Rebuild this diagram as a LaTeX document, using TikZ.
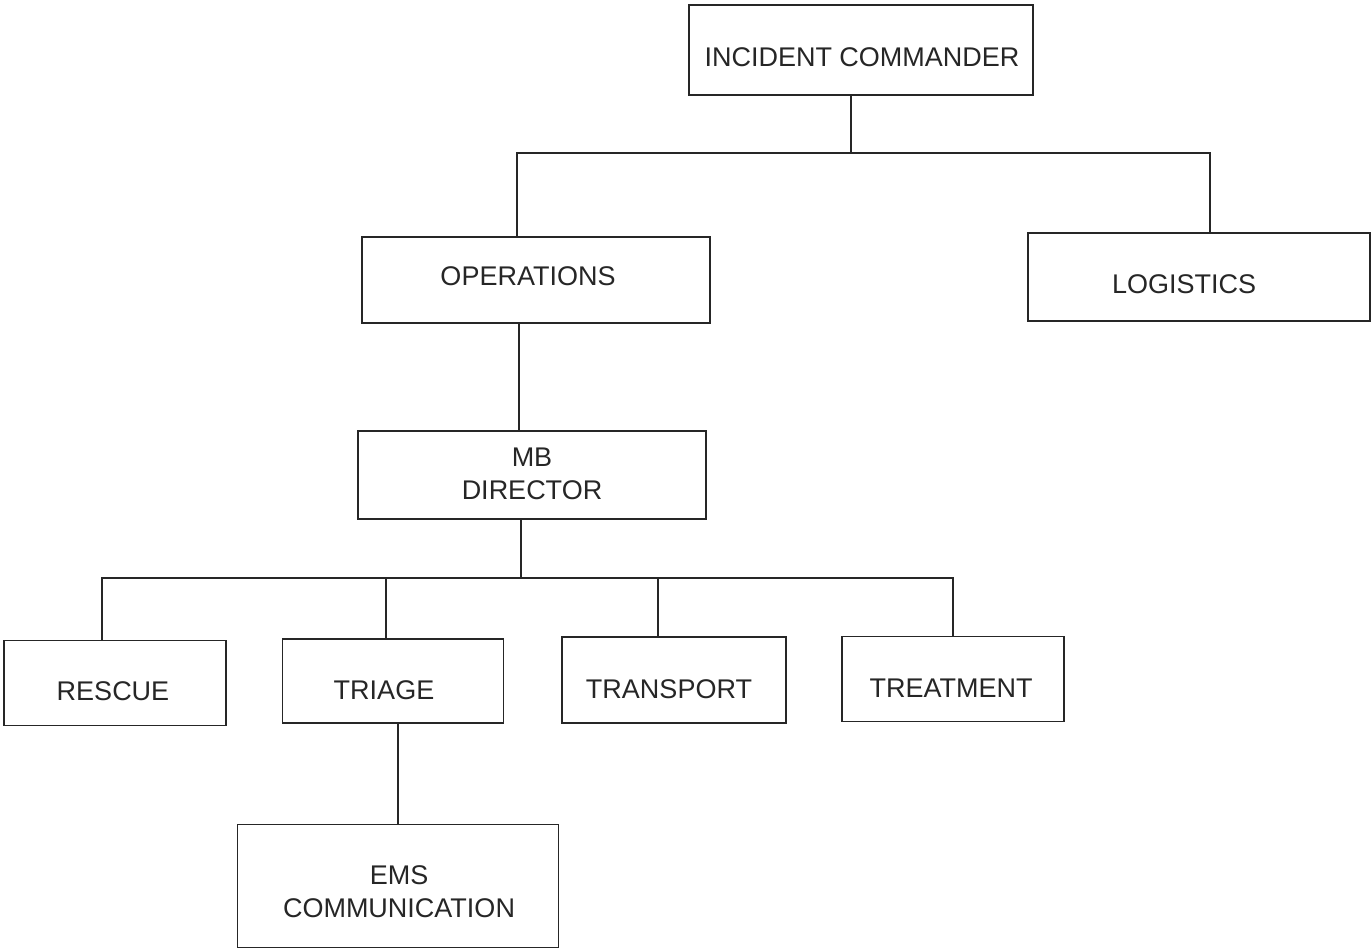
\documentclass[tikz,border=0pt]{standalone}
\usepackage{fontspec}
\setmainfont{Liberation Sans}
\begin{document}
\begin{tikzpicture}[x=1pt,y=-1pt,
  box/.style={draw=black!85, line width=1.6pt, rectangle, inner sep=0pt},
  lbl/.style={inner sep=0pt, align=center, font=\fontsize{27}{33}\selectfont, text=black!85},
  conn/.style={draw=black!85, line width=1.6pt}]
\useasboundingbox (0,0) rectangle (1372,949);
\node[box, minimum width=344, minimum height=90] (ic) at (861,50) {};
\node[box, minimum width=348, minimum height=86] (ops) at (536,280) {};
\node[box, minimum width=342, minimum height=88] (log) at (1199,277) {};
\node[box, minimum width=348, minimum height=88] (mb) at (532,475) {};
\node[box, minimum width=222, minimum height=85] (res) at (115,683) {};
\node[box, minimum width=221, minimum height=84] (tri) at (393,681) {};
\node[box, minimum width=224, minimum height=86] (tra) at (674,680) {};
\node[box, minimum width=222, minimum height=85] (tre) at (953,679) {};
\node[box, minimum width=321, minimum height=123] (ems) at (398,886) {};
\node[lbl] (icl) at (862,57) {INCIDENT COMMANDER};
\node[lbl] (opsl) at (528,276) {OPERATIONS};
\node[lbl] (logl) at (1184,284) {LOGISTICS};
\node[lbl] (mbl) at (532,474) {MB\\DIRECTOR};
\node[lbl] (resl) at (113,691) {RESCUE};
\node[lbl] (tril) at (384,690) {TRIAGE};
\node[lbl] (tral) at (669,689) {TRANSPORT};
\node[lbl] (trel) at (951,688) {TREATMENT};
\node[lbl] (emsl) at (399,892) {EMS\\COMMUNICATION};
\coordinate (j1) at (851,153);
\coordinate (j2) at (521,578);
\draw[conn] (ic.south -| j1) -- (j1);
\draw[conn] (ops.north -| 517,0) |- (j1) -| (log.north -| 1210,0);
\draw[conn] (ops.south -| 519,0) -- (mb.north -| 519,0);
\draw[conn] (mb.south -| j2) -- (j2);
\draw[conn] (res.north -| 102,0) |- (j2) -| (tre.north -| 953,0);
\draw[conn] (tri.north -| 386,0) -- (386,578);
\draw[conn] (tra.north -| 658,0) -- (658,578);
\draw[conn] (tri.south -| 398,0) -- (ems.north -| 398,0);
\end{tikzpicture}
\end{document}
